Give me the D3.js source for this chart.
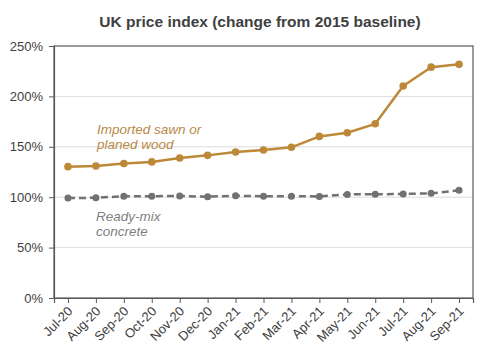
<!DOCTYPE html>
<html>
<head>
<meta charset="utf-8">
<script src="https://cdn.jsdelivr.net/npm/d3@7"></script>
<style>
	body { margin: 0; background: #fff; }
	svg { display: block; }
</style>
</head>
<body>
<div class="chart"></div>
<script>
var months = ['Jul-20', 'Aug-20', 'Sep-20', 'Oct-20', 'Nov-20', 'Dec-20', 'Jan-21', 'Feb-21',
	'Mar-21', 'Apr-21', 'May-21', 'Jun-21', 'Jul-21', 'Aug-21', 'Sep-21'];
var woodValues = [130.3, 131, 133.5, 135, 138.9, 141.5, 144.8, 146.8, 149.5, 160.3, 164, 172.8, 210.3, 229, 231.8];
var concreteValues = [99.2, 99.4, 101, 101, 101.2, 100.5, 101.4, 101, 101, 100.8, 102.8, 102.9, 103.2, 103.8, 106.8];
var yTicks = [0, 50, 100, 150, 200, 250];

(function() {
	var textColor = '#404040',
		woodColor = '#bd8838',
		concreteColor = '#717171',
		gridColor = '#dcdcdc',
		axisColor = '#595959';
	var margin = {top: 46, left: 54, bottom: 52, right: 19};
	var width = 492 - margin.left - margin.right;
	var height = 350 - margin.top - margin.bottom;

	var x = d3.scalePoint().domain(months).range([0, width]).padding(0.5);
	var y = d3.scaleLinear().domain([0, 250]).range([height, 0]);

	var svg = d3.select('.chart').append('svg')
		.attr('width', 492)
		.attr('height', 350)
		.attr('font-family', 'Liberation Sans, Arial, sans-serif')
		.attr('fill', textColor);

	// Title
	svg.append('text')
		.attr('x', 260)
		.attr('y', 27)
		.attr('text-anchor', 'middle')
		.attr('font-size', '15.5px')
		.attr('font-weight', 'bold')
		.text('UK price index (change from 2015 baseline)');

	var g = svg.append('g')
		.attr('transform', 'translate(' + margin.left + ',' + margin.top + ')');

	// Gridlines
	g.selectAll('.grid').data(yTicks.slice(1, -1)).enter().append('line')
		.attr('x1', 0).attr('x2', width)
		.attr('y1', function(d) { return y(d); })
		.attr('y2', function(d) { return y(d); })
		.attr('stroke', gridColor)
		.attr('stroke-width', 1);

	// Frame
	g.append('rect')
		.attr('width', width).attr('height', height)
		.attr('fill', 'none')
		.attr('stroke', axisColor)
		.attr('stroke-width', 1.2);

	// Y axis
	var yAxis = g.append('g')
		.call(d3.axisLeft(y).tickValues(yTicks).tickSize(5).tickPadding(6)
			.tickFormat(function(d) { return d + '%'; }));
	yAxis.select('.domain').attr('stroke', axisColor).attr('stroke-width', 1.2);
	yAxis.selectAll('.tick line').attr('stroke', axisColor);
	yAxis.selectAll('text')
		.attr('font-size', '13px')
		.attr('fill', textColor)
		.attr('font-family', 'Liberation Sans, Arial, sans-serif');

	// X axis
	var xAxis = g.append('g')
		.attr('transform', 'translate(0,' + height + ')')
		.call(d3.axisBottom(x).tickSize(5).tickSizeOuter(5));
	xAxis.select('.domain').attr('stroke', axisColor).attr('stroke-width', 1.2);
	xAxis.selectAll('.tick line').attr('stroke', axisColor);
	xAxis.selectAll('text')
		.attr('font-size', '13px')
		.attr('fill', textColor)
		.attr('font-family', 'Liberation Sans, Arial, sans-serif')
		.attr('text-anchor', 'end')
		.attr('dy', null)
		.attr('y', 0)
		.attr('transform', 'translate(5,14) rotate(-45)');

	// Lines
	function drawSeries(values, color, dash, r) {
		var line = d3.line()
			.x(function(d, i) { return x(months[i]); })
			.y(function(d) { return y(d); });
		g.append('path')
			.datum(values)
			.attr('d', line)
			.attr('fill', 'none')
			.attr('stroke', color)
			.attr('stroke-width', 2.5)
			.attr('stroke-dasharray', dash)
			.attr('stroke-linejoin', 'round');
		g.selectAll(null).data(values).enter().append('circle')
			.attr('cx', function(d, i) { return x(months[i]); })
			.attr('cy', function(d) { return y(d); })
			.attr('r', r)
			.attr('fill', color);
	}
	drawSeries(concreteValues, concreteColor, '7,4', 3.5);
	drawSeries(woodValues, woodColor, null, 3.8);

	// Series labels
	var woodLabel = svg.append('text')
		.attr('font-size', '13.5px')
		.attr('font-style', 'italic')
		.attr('fill', '#b88a48');
	woodLabel.append('tspan').attr('x', 97).attr('y', 134).text('Imported sawn or');
	woodLabel.append('tspan').attr('x', 97).attr('y', 149).text('planed wood');

	var concreteLabel = svg.append('text')
		.attr('font-size', '13.5px')
		.attr('font-style', 'italic')
		.attr('fill', '#7f7f7f');
	concreteLabel.append('tspan').attr('x', 96).attr('y', 221).text('Ready-mix');
	concreteLabel.append('tspan').attr('x', 96).attr('y', 236).text('concrete');
})();
</script>
</body>
</html>
